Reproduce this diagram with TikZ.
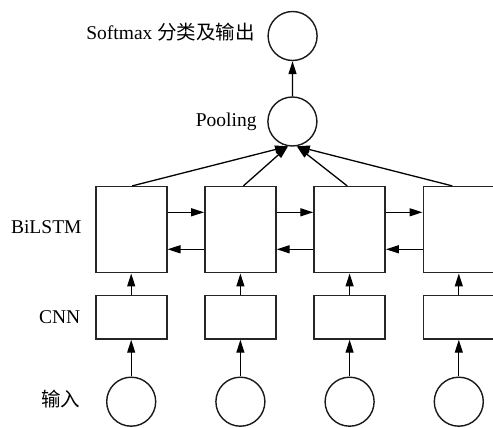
\documentclass[tikz,border=0pt]{standalone}
\usepackage{fontspec}
\setmainfont{Liberation Serif}
\newfontfamily\cjk{Noto Sans CJK SC}
\usetikzlibrary{arrows.meta}
\begin{document}
\begin{tikzpicture}[x=1pt,y=1pt,
  unit/.style={circle,draw=black!90,line width=1.4pt,minimum size=49pt,inner sep=0pt},
  lstmbox/.style={rectangle,draw=black!85,line width=1.6pt,minimum width=71pt,minimum height=86pt,inner sep=0pt},
  cnnbox/.style={rectangle,draw=black!85,line width=1.6pt,minimum width=71pt,minimum height=43.3pt,inner sep=0pt},
  lbl/.style={anchor=base east,inner sep=0pt,font=\fontsize{19.5}{21}\selectfont},
  conn/.style={draw=black,line width=1.3pt,-{Triangle[length=13pt,width=8pt]}}]
\clip (0,0) rectangle (493,428);
\fill[white] (0,0) rectangle (493,428);

% output and pooling units
\node[unit] (soft) at (292.6,392) {};
\node[unit] (pool) at (292.4,306.5) {};

% BiLSTM, CNN and input columns
\foreach \i in {1,...,4} {
  \pgfmathsetmacro{\cx}{131.2+109.2*(\i-1)}
  \node[lstmbox] (b\i) at (\cx,198.3) {};
  \node[cnnbox] (c\i) at (\cx,110.7) {};
  \node[unit] (in\i) at (\cx,26.3) {};
  \draw[conn] (in\i) -- (c\i);
  \draw[conn] (c\i) -- (b\i);
}

% recurrent connections between neighbouring BiLSTM cells
\foreach \i/\j in {1/2,2/3,3/4} {
  \draw[conn] ([yshift=17.4pt]b\i.east) -- ([yshift=17.4pt]b\j.west);
  \draw[conn] ([yshift=-19.6pt]b\j.west) -- ([yshift=-19.6pt]b\i.east);
}

% BiLSTM outputs into pooling
\draw[conn] ([xshift=1pt]b1.north) -- (pool.-100);
\draw[conn] ([xshift=3pt]b2.north) -- (pool.-100);
\draw[conn] ([xshift=-2.4pt]b3.north) -- (pool.-80);
\draw[conn] ([xshift=-6.5pt]b4.north) -- (pool.-80);

\draw[conn] (pool) -- (soft);

% layer labels
\node[lbl] (tsoft) at (255,388.5) {Softmax {\cjk 分类及输出}};
\node[lbl] (tpool) at (256.7,301.3) {Pooling};
\node[lbl] (tlstm) at (81.7,194) {BiLSTM};
\node[lbl] (tcnn) at (80.5,104.7) {CNN};
\node[lbl] (tin) at (80.5,21) {\cjk 输入};
\end{tikzpicture}
\end{document}
